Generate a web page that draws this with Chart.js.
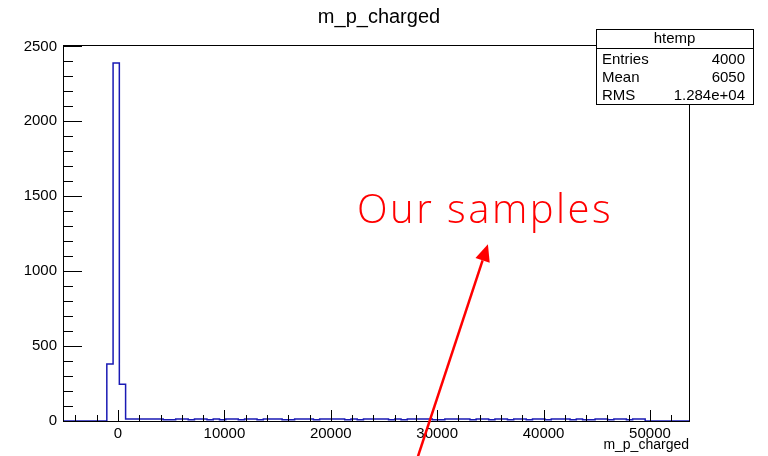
<!DOCTYPE html>
<html>
<head>
<meta charset="utf-8">
<script src="https://cdn.jsdelivr.net/npm/chart.js@4.4.0/dist/chart.umd.min.js"></script>
<style>
  html, body { margin: 0; padding: 0; background: #fff; }
  #wrap { width: 768px; height: 456px; }
</style>
</head>
<body>
<div id="wrap"><canvas id="histo"></canvas></div>
<script>
// histogram (100 bins over the frame range)
var histTitle = 'm_p_charged';
var xMin = -5170, xMax = 53670, nBins = 100;
var yMax = 2509.5;
var counts = [
  0, 0, 0, 0, 0, 0, 0, 380, 2390, 245,
  14, 13, 14, 14, 14, 14, 8, 9, 14, 14,
  8, 14, 14, 9, 14, 8, 14, 13, 8, 14,
  14, 8, 14, 14, 14, 9, 8, 14, 14, 14,
  8, 14, 13, 14, 14, 9, 14, 8, 14, 14,
  14, 14, 9, 14, 8, 14, 14, 14, 14, 8,
  9, 14, 14, 14, 14, 8, 14, 14, 9, 14,
  14, 8, 14, 14, 8, 14, 14, 8, 14, 13,
  14, 8, 14, 9, 8, 14, 14, 8, 14, 14,
  8, 14, 14, 0, 0, 0, 0, 0, 0, 0
];
var xTicks = [0, 10000, 20000, 30000, 40000, 50000];
var yTicks = [0, 500, 1000, 1500, 2000, 2500];
var statLabels = ['Entries', 'Mean', 'RMS'];
var statValues = ['4000', '6050', '1.284e+04'];
var note = 'Our samples';
var noteAt = [22460, 1320];          // text left / baseline, data units
var arrowFrom = [28200, -235];
var arrowTo = [34770, 1180];

var binW = (xMax - xMin) / nBins;
var points = counts.map(function(c, i) { return {x: xMin + i * binW, y: c}; });
points.push({x: xMax, y: 0});

var rootStyle = {
  id: 'rootStyle',
  afterDraw: function(chart) {
    var ctx = chart.ctx, a = chart.chartArea;
    var xs = chart.scales.x, ys = chart.scales.y;
    ctx.save();
    ctx.strokeStyle = '#000';
    ctx.lineWidth = 1;

    // frame
    ctx.strokeRect(Math.round(a.left) + 0.5, Math.round(a.top) + 0.5,
      Math.round(a.right - a.left), Math.round(a.bottom - a.top));

    // ticks inside the frame
    ctx.beginPath();
    for (var v = 0; v <= yMax; v += 100) {
      var py = Math.round(ys.getPixelForValue(v)) + 0.5;
      var len = (v % 500 === 0) ? 19 : 10;
      ctx.moveTo(a.left, py); ctx.lineTo(a.left + len, py);
    }
    for (var u = -4000; u <= xMax; u += 2000) {
      var px = Math.round(xs.getPixelForValue(u)) + 0.5;
      var l2 = (u % 10000 === 0) ? 11 : 6;
      ctx.moveTo(px, a.bottom); ctx.lineTo(px, a.bottom - l2);
    }
    ctx.stroke();

    // title
    ctx.fillStyle = '#000';
    ctx.font = '20px "Liberation Sans", Arial, sans-serif';
    ctx.textAlign = 'center';
    ctx.textBaseline = 'middle';
    ctx.fillText(histTitle, 379, 17);

    // stats box
    var bx = 596, by = 29, bw = 157, bh = 75;
    ctx.fillStyle = '#fff';
    ctx.fillRect(bx, by, bw, bh);
    ctx.strokeRect(bx + 0.5, by + 0.5, bw, bh);
    ctx.beginPath();
    ctx.moveTo(bx, by + 19.5); ctx.lineTo(bx + bw, by + 19.5);
    ctx.stroke();
    ctx.fillStyle = '#000';
    ctx.font = '15px "Liberation Sans", Arial, sans-serif';
    ctx.textAlign = 'center';
    ctx.fillText('htemp', bx + bw / 2, by + 10);
    for (var i = 0; i < statLabels.length; i++) {
      var ry = by + 31 + i * 18;
      ctx.textAlign = 'left';
      ctx.fillText(statLabels[i], bx + 6, ry);
      ctx.textAlign = 'right';
      ctx.fillText(statValues[i], bx + bw - 8, ry);
    }

    // red annotation
    ctx.fillStyle = '#ff0000';
    ctx.strokeStyle = '#ff0000';
    ctx.font = '300 40px "Open Sans", "Noto Sans CJK SC", sans-serif';
    ctx.letterSpacing = '2.5px';
    ctx.textAlign = 'left';
    ctx.textBaseline = 'alphabetic';
    ctx.fillText(note, xs.getPixelForValue(noteAt[0]), ys.getPixelForValue(noteAt[1]));
    ctx.letterSpacing = '0px';

    var x0 = xs.getPixelForValue(arrowFrom[0]), y0 = ys.getPixelForValue(arrowFrom[1]);
    var x1 = xs.getPixelForValue(arrowTo[0]), y1 = ys.getPixelForValue(arrowTo[1]);
    var ang = Math.atan2(y1 - y0, x1 - x0);
    var head = 17, half = 7.5;
    var hx = x1 - head * Math.cos(ang), hy = y1 - head * Math.sin(ang);
    ctx.lineWidth = 2.5;
    ctx.beginPath();
    ctx.moveTo(x0, y0); ctx.lineTo(hx, hy);
    ctx.stroke();
    ctx.beginPath();
    ctx.moveTo(x1, y1);
    ctx.lineTo(hx + half * Math.sin(ang), hy - half * Math.cos(ang));
    ctx.lineTo(hx - half * Math.sin(ang), hy + half * Math.cos(ang));
    ctx.closePath();
    ctx.fill();
    ctx.restore();
  }
};

var labelFont = {family: '"Liberation Sans", Arial, sans-serif', size: 15};

new Chart(document.getElementById('histo').getContext('2d'), {
  type: 'line',
  data: {
    datasets: [{
      label: histTitle,
      data: points,
      stepped: true,
      borderColor: '#1a1ab4',
      borderWidth: 1.5,
      pointRadius: 0,
      fill: false
    }]
  },
  options: {
    responsive: true,
    maintainAspectRatio: false,
    animation: false,
    layout: { padding: { top: 45, right: 79, left: 0, bottom: 0 } },
    plugins: { legend: { display: false }, tooltip: { enabled: false } },
    scales: {
      x: {
        type: 'linear',
        min: xMin,
        max: xMax,
        afterBuildTicks: function(s) { s.ticks = xTicks.map(function(v) { return {value: v}; }); },
        afterFit: function(s) { s.height = 35; },
        grid: { display: false, drawTicks: false },
        border: { display: false },
        ticks: { color: '#000', font: labelFont, padding: 4, maxRotation: 0,
                 callback: function(v) { return String(v); } },
        title: { display: true, text: histTitle, align: 'end', color: '#000',
                 font: {family: '"Liberation Sans", Arial, sans-serif', size: 14},
                 padding: {top: 0, bottom: 2} }
      },
      y: {
        min: 0,
        max: yMax,
        afterBuildTicks: function(s) { s.ticks = yTicks.map(function(v) { return {value: v}; }); },
        afterFit: function(s) { s.width = 63; },
        grid: { display: false, drawTicks: false },
        border: { display: false },
        ticks: { color: '#000', font: labelFont, padding: 6,
                 callback: function(v) { return String(v); } }
      }
    }
  },
  plugins: [rootStyle]
});
</script>
</body>
</html>
